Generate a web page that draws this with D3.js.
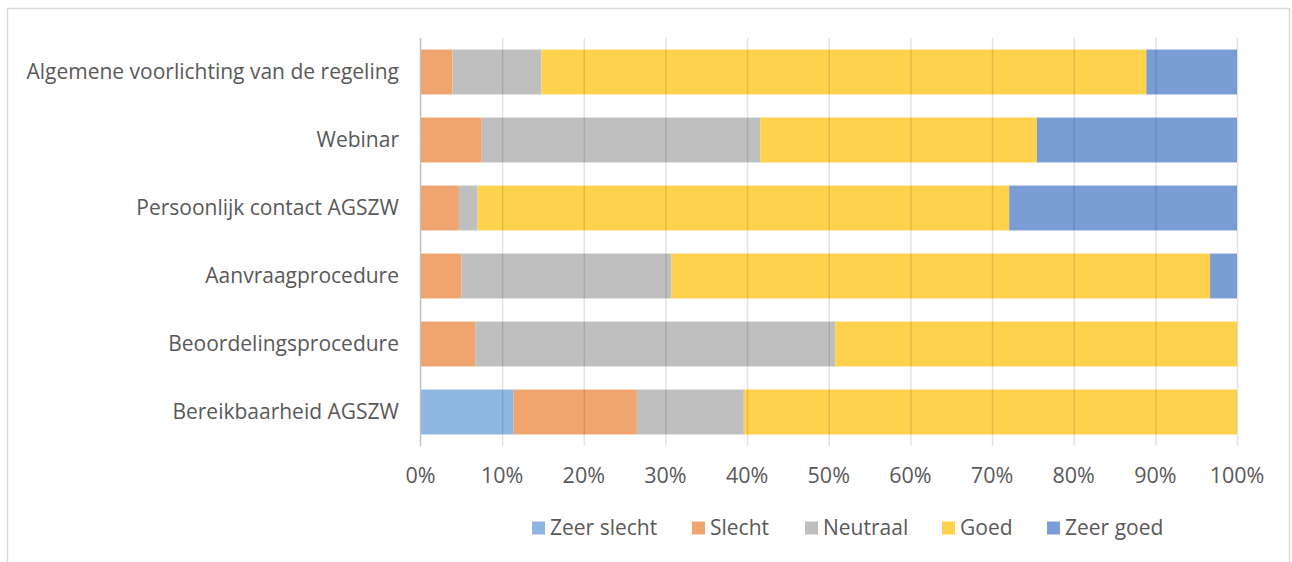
<!DOCTYPE html>
<html>
<head>
<meta charset="utf-8">
<script src="https://cdn.jsdelivr.net/npm/d3@7"></script>
<style>
  body { margin: 0; background: #fff; }
  svg text { font-family: "Open Sans", "Liberation Sans", sans-serif; fill: #595959; }
</style>
</head>
<body>
<svg id="chart" width="1292" height="562"></svg>
<script>
var categories = ["Algemene voorlichting van de regeling", "Webinar", "Persoonlijk contact AGSZW",
                  "Aanvraagprocedure", "Beoordelingsprocedure", "Bereikbaarheid AGSZW"];
var seriesNames = ["Zeer slecht", "Slecht", "Neutraal", "Goed", "Zeer goed"];
var zeerSlecht = [0, 0, 0, 0, 0, 11.4];
var slecht     = [3.9, 7.5, 4.7, 5.0, 6.7, 15.1];
var neutraal   = [10.9, 34.1, 2.3, 25.7, 44.1, 13.1];
var goed       = [74.1, 33.9, 65.1, 66.0, 49.2, 60.4];
var zeerGoed   = [11.1, 24.5, 27.9, 3.3, 0, 0];
var ticks = [0, 10, 20, 30, 40, 50, 60, 70, 80, 90, 100];
var colors = ["#8DB6E1", "#F0A46E", "#BFBFBF", "#FFD24D", "#7A9DD6"];

var svg = d3.select("#chart");
var plotLeft = 420.5, plotRight = 1237, plotTop = 38, plotBottom = 446;

// outer frame
svg.append("rect")
    .attr("x", 7.5).attr("y", 8.5)
    .attr("width", 1282).attr("height", 560)
    .attr("fill", "none").attr("stroke", "#D9D9D9").attr("stroke-width", 1.5);

var x = d3.scaleLinear().domain([0, 100]).range([plotLeft, plotRight]);
var y = d3.scaleBand().domain(categories).range([plotTop, plotBottom]).paddingInner(0.34).paddingOuter(0.17);

var rows = categories.map(function(c, i) {
    return { cat: c, "Zeer slecht": zeerSlecht[i], "Slecht": slecht[i], "Neutraal": neutraal[i],
             "Goed": goed[i], "Zeer goed": zeerGoed[i] };
});
var stacked = d3.stack().keys(seriesNames)(rows);

svg.append("g")
    .selectAll("g.series")
    .data(stacked)
    .enter().append("g")
    .attr("class", "series")
    .attr("fill", function(d, i) { return colors[i]; })
    .selectAll("rect")
    .data(function(d) { return d; })
    .enter().append("rect")
    .attr("x", function(d) { return x(d[0]); })
    .attr("width", function(d) { return x(d[1]) - x(d[0]); })
    .attr("y", function(d) { return y(d.data.cat); })
    .attr("height", y.bandwidth());

// gridlines on top of the bars
var xGrid = d3.axisBottom(x).tickValues(ticks.slice(1)).tickFormat("").tickSize(plotBottom - plotTop);
svg.append("g")
    .attr("transform", "translate(0," + plotTop + ")")
    .call(xGrid)
    .call(function(s) {
        s.select(".domain").remove();
        s.selectAll("line").attr("stroke", "#000").attr("stroke-opacity", 0.11).attr("stroke-width", 1.5);
    });

// zero line
svg.append("line")
    .attr("x1", x(0)).attr("x2", x(0))
    .attr("y1", plotTop).attr("y2", plotBottom)
    .attr("stroke", "#BFBFBF").attr("stroke-width", 1.5);

// x tick labels
svg.selectAll("text.xt")
    .data(ticks)
    .enter().append("text")
    .attr("class", "xt")
    .attr("x", function(d) { return x(d); })
    .attr("y", 483)
    .attr("text-anchor", "middle")
    .style("font-size", "21.5px")
    .text(function(d) { return d + "%"; });

// category labels
svg.selectAll("text.cat")
    .data(categories)
    .enter().append("text")
    .attr("class", "cat")
    .attr("x", 399)
    .attr("y", function(d) { return y(d) + y.bandwidth() / 2; })
    .attr("dy", "0.35em")
    .attr("text-anchor", "end")
    .style("font-size", "21px")
    .text(function(d) { return d; });

// legend
var legendX = [532, 692, 805, 942, 1047];
var legend = svg.selectAll("g.leg")
    .data(seriesNames)
    .enter().append("g")
    .attr("class", "leg")
    .attr("transform", function(d, i) { return "translate(" + legendX[i] + ",528)"; });
legend.append("rect")
    .attr("x", 0).attr("y", -6.5)
    .attr("width", 13).attr("height", 13)
    .attr("fill", function(d, i) { return colors[i]; });
legend.append("text")
    .attr("x", 18).attr("y", 0)
    .attr("dy", "0.35em")
    .style("font-size", "21px")
    .text(function(d) { return d; });
</script>
</body>
</html>
